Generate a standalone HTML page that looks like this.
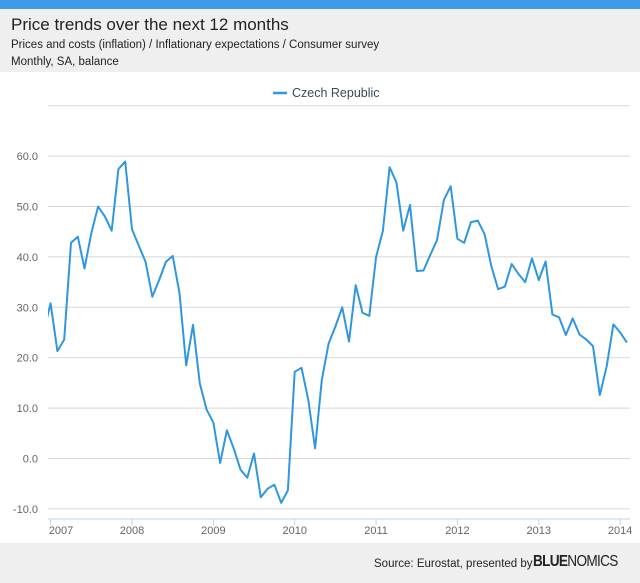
<!DOCTYPE html>
<html><head><meta charset="utf-8"><style>
body{margin:0;width:640px;height:583px;overflow:hidden;background:#fff;font-family:"Liberation Sans",sans-serif}
#top{position:absolute;left:0;top:0;width:640px;height:9px;background:#3d9be9}
#hdr{position:absolute;left:0;top:9px;width:640px;height:63px;background:#efefef}
#foot{position:absolute;left:0;top:543px;width:640px;height:40px;background:#efefef}
</style></head><body>
<div id="top"></div>
<div id="hdr">
<div style="position:absolute;left:11px;top:6px;font-size:17px;color:#222">Price trends over the next 12 months</div>
<div style="position:absolute;left:11px;top:30px;font-size:11.5px;color:#222">Prices and costs (inflation) / Inflationary expectations / Consumer survey</div>
<div style="position:absolute;left:11px;top:47px;font-size:11.5px;color:#222">Monthly, SA, balance</div>
</div>
<svg id="chart" width="640" height="583" style="position:absolute;left:0;top:0">
<g id="grid"></g><g id="xa"></g><g id="ya"></g><path id="line" fill="none" stroke="#2f97e0" stroke-width="2" stroke-linejoin="round"/>
<g><line x1="273" y1="93" x2="287" y2="93" stroke="#2f97e0" stroke-width="2.5"/><text x="292" y="97" font-size="12.5" fill="#3a4a5a">Czech Republic</text></g>
</svg>
<div id="foot">
<div style="position:absolute;left:374px;top:15px;font-size:11.5px;color:#222">Source: Eurostat, presented by</div>
<div style="position:absolute;left:533px;top:10px;font-size:16px;color:#222;letter-spacing:-0.8px;transform:scaleX(0.85);transform-origin:left top;white-space:nowrap"><b>BLUE</b>NOMICS</div>
</div>
<script>
const startYear=2006, startMonth=11;
const values=[25.3,30.8,21.3,23.6,42.8,44,37.7,44.7,50,48,45.2,57.4,58.9,45.5,42.2,39,32.1,35.4,39,40.2,32.8,18.5,26.5,14.9,9.7,7.1,-0.9,5.6,2,-2.2,-3.8,1,-7.7,-6,-5.2,-8.8,-6.3,17.2,18,11.6,2,15.6,22.8,26.2,30,23.2,34.4,28.9,28.3,40,45.2,57.8,54.8,45.2,50.3,37.2,37.3,40.4,43.4,51.3,54,43.6,42.8,46.9,47.2,44.5,38.2,33.6,34.1,38.6,36.6,35,39.7,35.4,39.1,28.6,28,24.5,27.8,24.6,23.6,22.3,12.6,18.2,26.6,25,23];
const yTicks=[-10,0,10,20,30,40,50,60,70];
const yLabels=["-10.0","0.0","10.0","20.0","30.0","40.0","50.0","60.0",""];
const xYears=[2007,2008,2009,2010,2011,2012,2013,2014];
const L=48,R=630,NS="http://www.w3.org/2000/svg";
const y=v=>458.5-v*5.04;
const x=m=>132+(m-2008*12)*6.78;
function el(t,a,p){const e=document.createElementNS(NS,t);for(const k in a)e.setAttribute(k,a[k]);p.appendChild(e);return e;}
const g=document.getElementById('grid'),xa=document.getElementById('xa'),ya=document.getElementById('ya');
yTicks.forEach((t,i)=>{const l=el('line',{x1:L,x2:R,y1:y(t),y2:y(t),stroke:'#d8d8d8','stroke-width':1},g);


if(yLabels[i]){const tx=el('text',{x:38,y:y(t)+4,'text-anchor':'end','font-size':11,fill:'#666'},ya);tx.textContent=yLabels[i];

}});
el('line',{x1:L,x2:R,y1:519,y2:519,stroke:'#c0d4e8','stroke-width':1},xa);
xYears.forEach(yr=>{const px=x(yr*12);if(px>=L-1){el('line',{x1:px,x2:px,y1:519,y2:525,stroke:'#c0d4e8'},xa);}
const tx=el('text',{x:yr===2007?61:px,y:534,'text-anchor':'middle','font-size':11,fill:'#666'},xa);tx.textContent=yr;

});
const cp=el('clipPath',{id:'cp'},document.getElementById('chart'));el('rect',{x:L,y:90,width:R-L,height:440},cp);
const ln=document.getElementById('line');ln.setAttribute('clip-path','url(#cp)');


ln.setAttribute('d',values.map((v,i)=>(i?'L':'M')+x(startYear*12+startMonth+i).toFixed(1)+','+y(v).toFixed(1)).join(''));
</script>
</body></html>
